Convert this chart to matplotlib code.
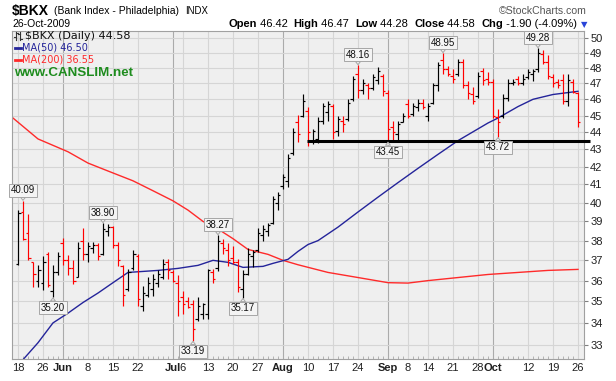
import numpy as np
import pandas as pd
import matplotlib
matplotlib.use('Agg')
import matplotlib.pyplot as plt
from matplotlib.collections import LineCollection
from matplotlib.lines import Line2D
from matplotlib.ticker import NullLocator, FixedLocator

# ---------------- data ----------------
holidays = ['2009-05-25', '2009-07-03', '2009-09-07']
dates = pd.bdate_range('2009-05-18', '2009-10-26')
dates = dates[~dates.isin(pd.to_datetime(holidays))]

opens = [36.80, 39.50, 38.40, 36.90, 36.00, 35.90, 37.30, 35.50, 36.40, 37.90,
         37.00, 36.60, 36.20, 38.00, 37.30, 37.60, 37.80, 37.30, 38.50, 38.70,
         37.80, 36.70, 35.60, 36.60, 37.20, 34.80, 35.30, 35.60, 35.90, 36.20,
         36.90, 36.40, 35.90, 35.20, 35.00, 34.90, 34.20, 34.40, 34.40, 36.40,
         36.60, 37.90, 37.50, 37.10, 36.90, 35.60, 36.30, 37.20, 37.50, 38.30,
         38.50, 38.90, 40.00, 40.90, 41.20, 42.80, 44.60, 45.00, 45.30, 43.50,
         43.60, 44.70, 45.20, 45.60, 44.10, 44.70, 44.80, 46.00, 47.60, 46.60,
         46.90, 46.70, 47.20, 47.50, 46.40, 44.30, 43.90, 44.60, 45.70, 45.10,
         45.50, 45.80, 45.00, 45.80, 46.90, 48.50, 47.90, 47.50, 47.60, 48.40,
         46.90, 46.30, 46.20, 47.80, 47.30, 47.10, 44.90, 45.00, 46.10, 47.00,
         47.30, 47.00, 47.40, 47.60, 47.90, 48.90, 48.40, 47.40, 47.10, 47.20,
         45.90, 47.10, 46.42]
highs = [39.60, 40.09, 39.37, 36.92, 36.75, 37.21, 37.43, 36.75, 37.43, 38.12,
         37.26, 37.00, 37.95, 38.64, 37.95, 37.95, 37.87, 38.90, 38.85, 38.78,
         37.95, 36.75, 36.58, 37.50, 37.33, 35.75, 36.17, 36.33, 36.50, 37.08,
         37.08, 36.50, 36.25, 35.52, 35.20, 35.05, 35.20, 34.95, 36.55, 36.55,
         38.27, 38.10, 37.90, 37.70, 37.08, 36.50, 37.61, 37.50, 38.64, 38.80,
         38.90, 40.34, 40.60, 41.58, 42.74, 44.27, 45.05, 46.30, 45.50, 44.20,
         44.90, 45.80, 45.90, 45.70, 45.00, 45.00, 46.00, 47.50, 48.16, 47.30,
         47.00, 47.60, 48.05, 47.60, 46.60, 44.70, 44.70, 45.15, 46.00, 45.80,
         46.00, 46.00, 45.80, 47.05, 48.40, 48.95, 48.15, 47.95, 48.60, 48.60,
         47.15, 46.80, 47.70, 48.00, 47.70, 47.30, 45.40, 46.30, 47.30, 47.30,
         47.45, 47.60, 47.95, 47.95, 49.28, 49.15, 48.85, 47.60, 47.30, 47.60,
         47.60, 47.30, 46.47]
lows = [36.75, 38.05, 37.00, 35.67, 35.67, 35.55, 35.67, 35.20, 36.25, 36.75,
        36.25, 35.84, 36.17, 37.00, 36.92, 37.35, 37.00, 37.26, 38.25, 37.61,
        36.70, 34.80, 35.52, 36.50, 34.80, 34.55, 35.20, 35.27, 35.67, 36.08,
        36.08, 35.92, 34.30, 34.40, 34.70, 33.19, 34.10, 34.20, 34.20, 35.90,
        36.45, 37.30, 36.70, 36.83, 35.45, 35.17, 36.25, 36.67, 37.43, 38.00,
        38.24, 38.85, 39.60, 40.74, 40.87, 42.66, 43.40, 44.90, 43.20, 43.30,
        43.37, 44.50, 44.70, 43.60, 43.80, 44.00, 44.70, 45.90, 46.10, 46.33,
        46.00, 46.60, 46.95, 46.20, 43.45, 43.50, 43.50, 44.60, 44.85, 45.00,
        45.30, 45.40, 44.70, 45.70, 46.50, 47.60, 47.45, 47.05, 47.50, 46.70,
        46.00, 45.70, 46.10, 46.90, 46.90, 44.85, 43.72, 44.85, 45.90, 46.90,
        46.90, 46.90, 47.30, 47.15, 47.70, 48.25, 47.30, 46.75, 46.70, 45.70,
        45.60, 46.40, 44.28]
closes = [39.45, 38.10, 37.10, 36.30, 36.50, 36.90, 35.80, 36.40, 37.20, 37.00,
          36.60, 36.00, 37.60, 37.30, 37.70, 37.80, 37.20, 38.60, 38.70, 37.80,
          37.00, 35.30, 36.40, 37.30, 35.10, 35.40, 35.90, 36.10, 36.30, 36.80,
          36.50, 36.00, 35.00, 34.90, 34.75, 33.70, 34.80, 34.90, 36.50, 36.10,
          38.00, 37.60, 37.00, 36.90, 35.70, 36.30, 37.30, 37.40, 38.40, 38.60,
          38.80, 40.20, 40.40, 41.40, 42.50, 44.00, 43.90, 45.90, 44.00, 44.10,
          44.70, 45.60, 45.70, 44.00, 44.80, 44.50, 45.80, 47.30, 46.60, 47.00,
          46.70, 47.40, 47.80, 46.50, 44.20, 44.00, 44.50, 45.00, 44.95, 45.60,
          45.80, 45.50, 45.60, 46.90, 48.20, 47.90, 47.60, 47.30, 48.40, 46.90,
          46.40, 45.90, 47.50, 47.20, 47.10, 45.00, 44.60, 46.10, 47.00, 47.10,
          47.00, 47.30, 47.70, 47.80, 49.00, 48.40, 47.50, 47.00, 46.90, 45.90,
          47.20, 46.48, 44.58]

ma50_idx = [0, 1, 4, 7, 10, 13, 16, 19, 22, 25, 28, 32, 36, 39, 42, 45, 49, 51,
            54, 56, 58, 60, 64, 68, 72, 76, 80, 84, 88, 94, 96, 100, 103, 107, 112]
ma50_val = [32.05, 32.35, 33.10, 34.00, 34.45, 34.95, 35.40, 35.90, 36.40, 36.45,
            36.50, 36.60, 36.75, 37.00, 36.90, 36.65, 36.70, 36.85, 37.05, 37.45,
            37.80, 38.00, 38.70, 39.50, 40.30, 41.10, 41.90, 42.70, 43.50, 44.55,
            44.85, 45.55, 46.00, 46.30, 46.50]
ma200_idx = [-1.2, 4, 10, 14, 18, 23, 27, 31, 34, 37, 40, 43, 46, 50, 53, 56, 62,
             68, 74, 78, 82, 88, 94, 100, 106, 112]
ma200_val = [44.90, 43.60, 42.85, 42.20, 41.75, 41.20, 40.65, 40.10, 39.60, 39.00,
             38.60, 38.10, 37.55, 37.30, 37.00, 36.78, 36.40, 36.15, 35.90, 35.88,
             36.00, 36.15, 36.30, 36.40, 36.50, 36.55]

hi_tags = [1, 17, 40, 68, 85, 104]
lo_tags = [7, 35, 45, 74, 96]

support_level = 43.45
support_from, support_to = 57.8, 114.4

tick_dates = ['2009-05-18', '2009-05-26', '2009-06-01', '2009-06-08', '2009-06-15',
              '2009-06-22', '2009-07-01', '2009-07-06', '2009-07-13', '2009-07-20',
              '2009-07-27', '2009-08-03', '2009-08-10', '2009-08-17', '2009-08-24',
              '2009-09-01', '2009-09-08', '2009-09-14', '2009-09-21', '2009-09-28',
              '2009-10-01', '2009-10-12', '2009-10-19', '2009-10-26']
tick_labels = ['18', '26', 'Jun', '8', '15', '22', 'Jul', '6', '13', '20', '27', 'Aug',
               '10', '17', '24', 'Sep', '8', '14', '21', '28', 'Oct', '12', '19', '26']
month_labels = ['Jun', 'Jul', 'Aug', 'Sep', 'Oct']
y_ticks = list(range(33, 51))

# ---------------- figure ----------------
W, H = 616, 381
fig = plt.figure(figsize=(W / 100, H / 100), dpi=100)
fig.patch.set_facecolor('white')


def fx(x):
    return x / W


def fy(y):
    return 1 - y / H


AX_L, AX_R, AX_T, AX_B = 12, 584, 31, 359
ax = fig.add_axes([fx(AX_L), fy(AX_B), (AX_R - AX_L) / W, (AX_B - AX_T) / H])
ax.set_facecolor('#EFEFEF')
ax.set_yscale('log')
n = len(closes)
ax.set_xlim(-1.2, 113.2)
ax.set_ylim(32.38, 50.45)
ax.set_axisbelow(True)
for s in ax.spines.values():
    s.set_color('#A0A0A0')
    s.set_linewidth(0.8)

ax.yaxis.set_major_locator(FixedLocator(y_ticks))
ax.yaxis.set_minor_locator(NullLocator())
ax.set_yticklabels([str(v) for v in y_ticks])
ax.yaxis.tick_right()
ax.tick_params(axis='y', which='major', length=3, width=0.8, color='#808080',
               pad=1.5, labelsize=8, labelcolor='#202020')
ax.grid(True, axis='y', which='major', color='#D5D5D5', lw=0.8)

tick_pos = [dates.get_loc(pd.Timestamp(d)) for d in tick_dates]
ax.set_xticks(tick_pos)
ax.set_xticklabels(tick_labels)
ax.set_xticks(np.arange(n), minor=True)
ax.tick_params(axis='x', which='major', length=0, pad=3, labelsize=8, labelcolor='#202020')
ax.tick_params(axis='x', which='minor', length=2, direction='in', color='#A8A8A8', width=0.6)
for lab in ax.get_xticklabels() + ax.get_yticklabels():
    lab.set_family('Liberation Sans')
for lab in ax.get_xticklabels():
    if lab.get_text() in month_labels:
        lab.set_fontweight('bold')
for p, lab in zip(tick_pos, tick_labels):
    ax.axvline(p, color='#ABABAB' if lab in month_labels else '#D5D5D5', lw=0.8, zorder=0.5)

# moving averages
ax.plot(ma200_idx, ma200_val, color='#FF2A2A', lw=1.0, zorder=2)
ax.plot(ma50_idx, ma50_val, color='#24249A', lw=1.0, zorder=2)

# OHLC bars
segs, cols = [], []
for i in range(n):
    c = 'black' if i == 0 or closes[i] >= closes[i - 1] else '#FF0000'
    segs.append([(i, lows[i]), (i, highs[i])])
    segs.append([(i - 0.5, opens[i]), (i, opens[i])])
    segs.append([(i, closes[i]), (i + 0.5, closes[i])])
    cols += [c] * 3
ax.add_collection(LineCollection(segs, colors=cols, linewidths=0.85, zorder=3))

# support line
ax.plot([support_from, support_to], [support_level, support_level], color='black',
        lw=2.2, clip_on=False, zorder=4, solid_capstyle='butt')


def tag(i, val, above):
    dy = 4.0 if above else -4.0
    ax.annotate(f'{val:.2f}', xy=(i, val), xytext=(0, dy), textcoords='offset points',
                ha='center', va='bottom' if above else 'top', fontsize=7,
                family='Liberation Sans', color='#111111',
                bbox=dict(boxstyle='square,pad=0.15', fc='#F4F4F4', ec='#A6A6A6', lw=0.7),
                arrowprops=dict(arrowstyle='wedge,tail_width=0.5,shrink_factor=0.5',
                                fc='#F4F4F4', ec='#A6A6A6', lw=0.7, shrinkA=0, shrinkB=0.5),
                zorder=6)


for i in hi_tags:
    tag(i, highs[i], True)
for i in lo_tags:
    tag(i, lows[i], False)

# ---------------- header ----------------
fig.text(fx(12), fy(11), r'\$BKX', fontsize=10, fontweight='bold',
         family='Liberation Sans', va='center', ha='left')
fig.text(fx(54), fy(11), '(Bank Index - Philadelphia)', fontsize=7.5,
         family='Liberation Sans', va='center', ha='left')
fig.text(fx(185), fy(11.5), 'INDX', fontsize=6.9, family='Liberation Sans',
         va='center', ha='left')
fig.text(fx(587), fy(11), '\u00a9StockCharts.com', fontsize=7.6, color='#555555',
         family='Liberation Sans', va='center', ha='right')
fig.text(fx(12), fy(24), '26-Oct-2009', fontsize=7.5, family='Liberation Sans',
         va='center', ha='left')

chg = closes[-1] - closes[-2]
pct = chg / closes[-2] * 100
parts = [('Open', True), (f' {opens[-1]:.2f}', False),
         ('High', True), (f' {highs[-1]:.2f}', False),
         ('Low', True), (f' {lows[-1]:.2f}', False),
         ('Close', True), (f' {closes[-1]:.2f}', False),
         ('Chg', True), (f' {chg:.2f} ({pct:.2f}%)', False)]
renderer = fig.canvas.get_renderer()
texts, widths = [], []
for s, b in parts:
    t = fig.text(0, fy(24), s, fontsize=8, fontweight='bold' if b else 'normal',
                 family='Liberation Sans', va='center', ha='left')
    texts.append(t)
    widths.append(t.get_window_extent(renderer).width)
gap = 6
total = sum(widths) + gap * (len(parts) // 2 - 1)
x = 577 - total
for k, (t, w) in enumerate(zip(texts, widths)):
    t.set_x(fx(x))
    x += w
    if k % 2 == 1:
        x += gap
fig.text(fx(584), fy(24.5), '\u25bc', fontsize=6, color='#2A45D8', va='center', ha='center')

# ---------------- legend inside chart ----------------
for xs, ys in [([16, 16], [32, 40]), ([14, 16], [37, 37]), ([16, 18], [33, 33]),
               ([20, 20], [32, 40]), ([18, 20], [34, 34]), ([20, 22], [39, 39])]:
    fig.add_artist(Line2D([fx(v) for v in xs], [fy(v) for v in ys], color='#333333', lw=0.8))
fig.text(fx(25), fy(36), fr'\$BKX (Daily) {closes[-1]:.2f}', fontsize=8,
         family='DejaVu Sans', va='center', ha='left', color='#111111')
fig.add_artist(Line2D([fx(15), fx(21)], [fy(48), fy(48)], color='#24249A', lw=2))
fig.text(fx(22), fy(48), f'MA(50) {ma50_val[-1]:.2f}', fontsize=7,
         family='DejaVu Sans', va='center', ha='left', color='#24249A')
fig.add_artist(Line2D([fx(15), fx(21)], [fy(59.5), fy(59.5)], color='#FF2A2A', lw=2))
fig.text(fx(22), fy(59.5), f'MA(200) {ma200_val[-1]:.2f}', fontsize=7,
         family='DejaVu Sans', va='center', ha='left', color='#FF2A2A')
fig.text(fx(14), fy(72.5), 'www.CANSLIM.net', fontsize=9.6, fontweight='bold',
         family='Liberation Sans', va='center', ha='left', color='#1E8C1E')

fig.savefig('out.png', dpi=100)
